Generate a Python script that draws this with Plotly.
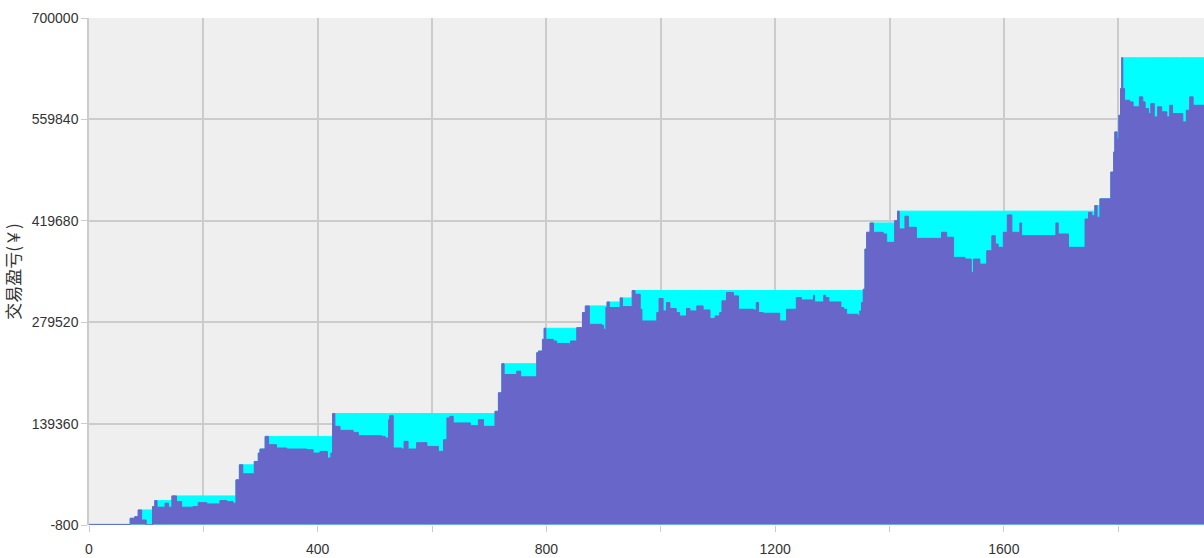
import numpy as np
import plotly.graph_objects as go

# equity curve (trade index, profit in yuan)
trade_idx = [
    0, 70, 72, 80, 86, 92, 100, 107, 111, 115, 119, 133, 139, 145, 153, 162, 182, 191, 206, 229,
    241, 252, 257, 263, 269, 285, 289, 296, 299, 308, 314, 328, 346, 381, 392, 404, 417, 423, 426, 430,
    439, 462, 471, 512, 518, 524, 526, 532, 547, 551, 558, 573, 591, 602, 611, 620, 626, 631, 637, 661,
    667, 681, 690, 704, 710, 716, 722, 726, 745, 748, 755, 780, 783, 786, 793, 796, 799, 812, 818, 835,
    840, 842, 853, 863, 868, 875, 897, 900, 904, 906, 910, 926, 929, 933, 945, 950, 955, 964, 967, 990,
    993, 997, 1004, 1010, 1016, 1027, 1033, 1045, 1051, 1063, 1074, 1086, 1095, 1103, 1107, 1115, 1127, 1136, 1162, 1167,
    1171, 1179, 1202, 1208, 1220, 1237, 1246, 1264, 1267, 1269, 1281, 1285, 1288, 1294, 1312, 1315, 1320, 1325, 1342, 1345,
    1348, 1351, 1354, 1357, 1360, 1366, 1372, 1389, 1395, 1408, 1409, 1414, 1417, 1427, 1433, 1442, 1447, 1488, 1491, 1500,
    1512, 1532, 1543, 1547, 1552, 1558, 1565, 1570, 1579, 1585, 1590, 1599, 1606, 1614, 1628, 1631, 1681, 1691, 1695, 1710,
    1713, 1736, 1742, 1748, 1754, 1759, 1763, 1768, 1784, 1787, 1792, 1794, 1798, 1801, 1804, 1806, 1808, 1811, 1820, 1826,
    1832, 1837, 1843, 1847, 1853, 1857, 1863, 1869, 1876, 1885, 1890, 1895, 1907, 1913, 1919, 1925, 1931, 1950,
]
equity = [
    0, 0, 8500, 10700, 20000, 6100, -800, -800, 24600, 32900, 23800, 29300, 23800, 39400, 31500, 23800, 24600, 30100, 28300, 32900,
    31500, 29300, 61600, 82400, 69900, 69900, 87000, 98600, 104200, 121700, 110200, 105600, 104200, 103200, 98600, 100900, 91700, 98600, 153200, 135600,
    130000, 127200, 122600, 121700, 119500, 144800, 150400, 105600, 104200, 114800, 104200, 113000, 107800, 107800, 100900, 117100, 147200, 149400, 140300, 140300,
    136500, 144800, 135600, 135600, 156300, 181900, 222100, 207200, 207200, 211800, 204000, 204000, 237300, 239600, 255800, 271100, 255800, 253500, 250200, 250200,
    245700, 253500, 272000, 292800, 302000, 276600, 275200, 269700, 299800, 307500, 299800, 299800, 313100, 301100, 301100, 323300, 318200, 297400, 281200, 281200,
    292800, 312300, 295100, 306700, 298400, 292800, 288100, 298400, 295100, 302000, 296400, 284600, 288100, 292800, 309000, 320600, 315900, 297400, 296400, 306700,
    292800, 291900, 291900, 281200, 297400, 313600, 310300, 310300, 316800, 307500, 307500, 316800, 313600, 307500, 307500, 299800, 297400, 290500, 290500, 288100,
    295000, 306700, 325100, 380600, 403800, 416700, 403800, 401400, 389900, 389900, 419900, 433000, 408400, 426000, 410700, 410700, 395400, 395400, 403800, 396900,
    369100, 366800, 348300, 366800, 366800, 359800, 359800, 378300, 399100, 387600, 383000, 403800, 427800, 403800, 416700, 399100, 399100, 416700, 401400, 401400,
    383000, 383000, 422200, 431400, 426800, 440700, 424600, 450000, 450000, 487000, 514800, 542500, 533200, 565500, 602500, 645100, 602500, 586300, 584000, 577200,
    577200, 591000, 584000, 574800, 567900, 581700, 563300, 577200, 570300, 563300, 579400, 567900, 567900, 556300, 572500, 591000, 579400, 579400,
]

y_ticks = [-800, 139360, 279520, 419680, 559840, 700000]
x_ticks = [0, 200, 400, 600, 800, 1000, 1200, 1400, 1600, 1800]
x_labels = ["0", "", "400", "", "800", "", "1200", "", "1600", ""]

# peak equity (running high) shown behind the curve
peak = np.maximum.accumulate(np.array(equity))

fig = go.Figure()
fig.add_trace(go.Scatter(
    x=trade_idx, y=peak, mode="lines", fill="tozeroy", line_shape="hv",
    line=dict(color="#00FFFF", width=1), fillcolor="#00FFFF",
))
fig.add_trace(go.Scatter(
    x=trade_idx, y=equity, mode="lines", fill="tozeroy", line_shape="hv",
    line=dict(color="#6866C8", width=1), fillcolor="#6866C8",
))

tick_font = dict(family="Liberation Sans, Arial, sans-serif", size=14, color="#333333")

fig.update_layout(
    width=1204, height=558,
    margin=dict(l=89, r=0, t=18, b=33),
    paper_bgcolor="white",
    plot_bgcolor="#EFEFEF",
    showlegend=False,
    xaxis=dict(
        range=[0, 1950], tickvals=x_ticks, ticktext=x_labels,
        showgrid=True, gridcolor="#CCCCCC", gridwidth=1.5,
        ticks="outside", ticklen=6, tickcolor="#CCCCCC",
        tickfont=tick_font, zeroline=False, ticklabelstandoff=5,
        automargin=False,
    ),
    yaxis=dict(
        range=[-800, 700000], tickvals=y_ticks, ticktext=[str(v) for v in y_ticks],
        showgrid=True, gridcolor="#CCCCCC", gridwidth=1.5,
        ticks="outside", ticklen=6, tickcolor="#CCCCCC",
        tickfont=tick_font, zeroline=False,
        showline=True, linecolor="#CCCCCC", linewidth=1.5,
        automargin=False,
        title=dict(text="交易盈亏(￥)", standoff=8,
                   font=dict(family="Noto Sans CJK SC", size=17, color="#333333")),
    ),
)

# drop the default body margin so the figure sits flush in the window
fig.write_html(
    "out.html",
    config={"displayModeBar": False},
    post_script="document.body.style.margin='0';document.body.style.overflow='hidden';",
)
